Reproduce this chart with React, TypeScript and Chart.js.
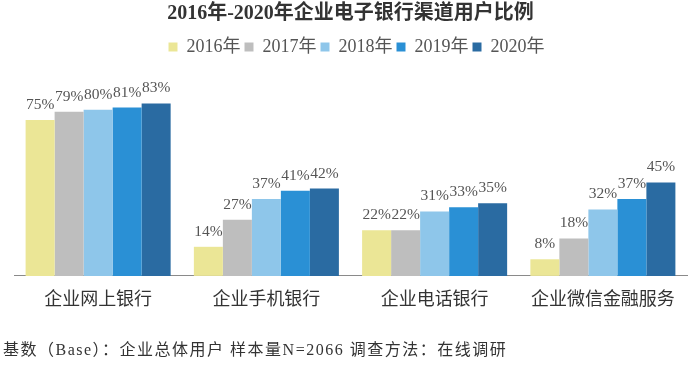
import React, { useEffect, useRef } from "react";
import { Chart, registerables } from "chart.js";

Chart.register(...registerables);

const TITLE = "2016年-2020年企业电子银行渠道用户比例";
const FOOTER = "基数（Base）：企业总体用户 样本量N=2066 调查方法：在线调研";
const categories = ["企业网上银行", "企业手机银行", "企业电话银行", "企业微信金融服务"];
const seriesNames = ["2016年", "2017年", "2018年", "2019年", "2020年"];
const values2016 = [75, 14, 22, 8];
const values2017 = [79, 27, 22, 18];
const values2018 = [80, 37, 31, 32];
const values2019 = [81, 41, 33, 37];
const values2020 = [83, 42, 35, 45];
const seriesValues = [values2016, values2017, values2018, values2019, values2020];
const seriesColors = ["#EBE696", "#BEBEBE", "#8EC6EA", "#2A90D5", "#2A6BA2"];

const FONT = "'Liberation Serif', 'Noto Sans CJK SC', serif";

const labelPlugin = {
  id: "barLabels",
  afterDatasetsDraw(chart: any) {
    const ctx = chart.ctx;
    ctx.save();
    ctx.font = `15.5px ${FONT}`;
    ctx.fillStyle = "#555";
    ctx.textAlign = "center";
    ctx.textBaseline = "alphabetic";
    chart.data.datasets.forEach((ds: any, i: number) => {
      const meta = chart.getDatasetMeta(i);
      meta.data.forEach((el: any, j: number) => {
        ctx.fillText(`${ds.data[j]}%`, el.x, el.y - 11);
      });
    });
    ctx.restore();
  },
};

const shiftPlugin = {
  id: "shiftHeader",
  afterLayout(chart: any) {
    if (chart.legend) {
      chart.legend.left += 6;
      chart.legend.right += 6;
    }
  },
};

export default function App() {
  const ref = useRef<HTMLCanvasElement | null>(null);
  useEffect(() => {
    document.body.style.margin = "0";
    if (!ref.current) return;
    const chart = new Chart(ref.current, {
      type: "bar",
      data: {
        labels: categories,
        datasets: seriesNames.map((name, i) => ({
          label: name,
          data: seriesValues[i],
          backgroundColor: seriesColors[i],
          borderWidth: 0,
          categoryPercentage: 0.862,
          barPercentage: 1,
        })),
      },
      options: {
        animation: false,
        responsive: false,
        maintainAspectRatio: false,
        layout: { padding: { left: 14, right: 13, top: 0, bottom: 39.5 } },
        plugins: {
          title: {
            display: true,
            text: TITLE,
            color: "#333",
            font: { size: 20, weight: "bold", family: FONT },
            padding: { top: 2, bottom: 8 },
          },
          legend: {
            display: true,
            labels: {
              boxWidth: 9,
              boxHeight: 9,
              padding: 4,
              color: "#555",
              font: { size: 18, family: FONT },
            },
          },
          tooltip: { enabled: false },
        },
        scales: {
          x: {
            grid: { display: false, drawTicks: false },
            border: { display: true, color: "#8a8a8a", width: 1 },
            ticks: { color: "#333", padding: 14, font: { size: 18, family: FONT } },
          },
          y: {
            display: false,
            min: 0,
            max: 101,
          },
        },
      },
      plugins: [labelPlugin, shiftPlugin],
    } as any);
    return () => chart.destroy();
  }, []);
  return (
    <div style={{ position: "relative", width: 700, height: 365, background: "#fff" }}>
      <canvas ref={ref} width={700} height={365} style={{ width: 700, height: 365, display: "block" }} />
      <div
        style={{
          position: "absolute",
          left: 3,
          top: 339.5,
          fontSize: 16,
          lineHeight: "20px",
          letterSpacing: "1.5px",
          fontFamily: FONT,
          color: "#333",
          whiteSpace: "nowrap",
        }}
      >
        {FOOTER}
      </div>
    </div>
  );
}
